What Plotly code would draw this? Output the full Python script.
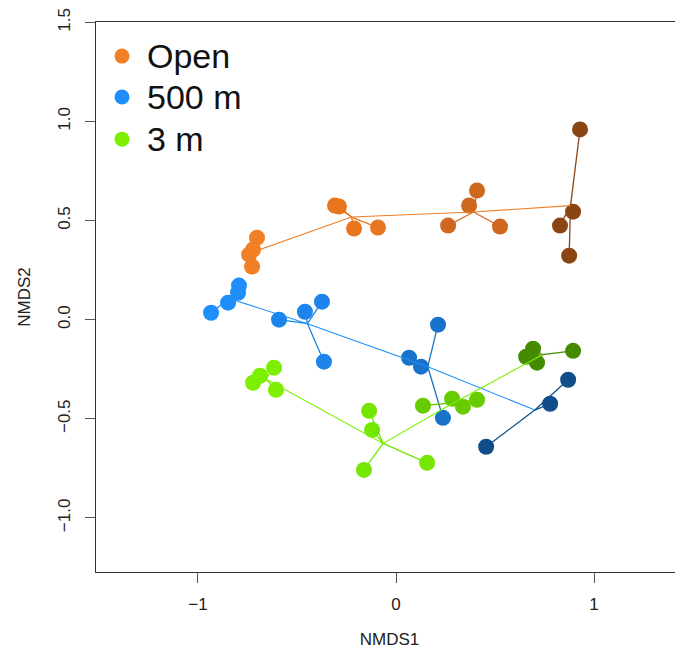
import plotly.graph_objects as go

# ---- data (NMDS scores) ----
treatments = ["Open", "500 m", "3 m"]

open_x = [[-0.702, -0.722, -0.742, -0.727],
          [-0.308, -0.288, -0.212, -0.091],
          [0.409, 0.369, 0.263, 0.525],
          [0.929, 0.894, 0.828, 0.874]]
open_y = [[0.414, 0.354, 0.328, 0.268],
          [0.576, 0.571, 0.460, 0.465],
          [0.652, 0.576, 0.475, 0.470],
          [0.960, 0.545, 0.475, 0.323]]

m500_x = [[-0.793, -0.798, -0.848, -0.934],
          [-0.591, -0.460, -0.374, -0.364],
          [0.212, 0.066, 0.126, 0.237],
          [0.869, 0.778, 0.455]]
m500_y = [[0.172, 0.136, 0.086, 0.035],
          [0.000, 0.040, 0.091, -0.212],
          [-0.025, -0.192, -0.237, -0.495],
          [-0.303, -0.424, -0.641]]

m3_x = [[-0.616, -0.687, -0.722, -0.606],
        [-0.136, -0.121, -0.162, 0.157],
        [0.136, 0.283, 0.338, 0.409],
        [0.692, 0.657, 0.712, 0.894]]
m3_y = [[-0.242, -0.283, -0.318, -0.354],
        [-0.460, -0.556, -0.758, -0.722],
        [-0.434, -0.399, -0.439, -0.404],
        [-0.146, -0.187, -0.217, -0.157]]

open_cols = ["#F07F26", "#E8761F", "#CF671E", "#8B4513"]
m500_cols = ["#1E8FFA", "#1C84EA", "#1872CA", "#104E8B"]
m3_cols = ["#7CF000", "#74E600", "#66CC00", "#458B00"]

x_ticks = [-1, 0, 1]
x_tick_text = ["\u22121", "0", "1"]
y_ticks = [-1.0, -0.5, 0.0, 0.5, 1.0, 1.5]
y_tick_text = ["\u22121.0", "\u22120.5", "0.0", "0.5", "1.0", "1.5"]

groups = [(open_x, open_y, open_cols), (m500_x, m500_y, m500_cols), (m3_x, m3_y, m3_cols)]

fig = go.Figure()


def mean(v):
    return sum(v) / len(v)


# points
for gx, gy, cols in groups:
    for xs, ys, c in zip(gx, gy, cols):
        fig.add_trace(go.Scatter(x=xs, y=ys, mode="markers",
                                 marker=dict(size=16, color=c, line=dict(width=0)),
                                 showlegend=False, hoverinfo="skip"))

# spiders (centroid -> points) and trajectories (centroid -> centroid)
for gx, gy, cols in groups:
    cx_list, cy_list = [], []
    for xs, ys, c in zip(gx, gy, cols):
        cx, cy = mean(xs), mean(ys)
        cx_list.append(cx)
        cy_list.append(cy)
        lx, ly = [], []
        for x, y in zip(xs, ys):
            lx += [cx, x, None]
            ly += [cy, y, None]
        fig.add_trace(go.Scatter(x=lx, y=ly, mode="lines",
                                 line=dict(color=c, width=1.3),
                                 showlegend=False, hoverinfo="skip"))
    fig.add_trace(go.Scatter(x=cx_list, y=cy_list, mode="lines",
                             line=dict(color=cols[0], width=1.1),
                             showlegend=False, hoverinfo="skip"))

# legend (drawn in paper coordinates, top-left inside the plot box)
legend_font = dict(family="Liberation Sans, Arial, sans-serif", size=34, color="#111")
leg_y = [0.938, 0.8636, 0.787]
for name, cols, ly in zip(treatments, [open_cols, m500_cols, m3_cols], leg_y):
    fig.add_shape(type="circle", xref="paper", yref="paper",
                  xsizemode="pixel", ysizemode="pixel",
                  xanchor=0.0443, yanchor=ly, x0=-7.5, x1=7.5, y0=-7.5, y1=7.5,
                  fillcolor=cols[0], line=dict(width=0))
    fig.add_annotation(text=name, xref="paper", yref="paper", x=0.0835, y=ly,
                       xanchor="left", yanchor="middle", showarrow=False,
                       font=legend_font)

axis_font = dict(family="Liberation Sans, Arial, sans-serif", size=17, color="#222")

# page has an 8px body margin, so the figure is sized to fit the 683x655 window
fig.update_layout(
    width=675, height=647,
    margin=dict(l=88, r=0, t=14, b=83),
    plot_bgcolor="white", paper_bgcolor="white",
    font=axis_font,
    showlegend=False,
    xaxis=dict(range=[-1.515, 1.449], showgrid=False, zeroline=False, automargin=False,
               showline=True, linecolor="#333", linewidth=1.2, mirror=True,
               ticks="outside", ticklen=10, tickcolor="#555", tickwidth=1,
               tickvals=x_ticks, ticktext=x_tick_text, ticklabelstandoff=6,
               tickfont=axis_font,
               title=dict(text="NMDS1", standoff=20, font=axis_font)),
    yaxis=dict(range=[-1.273, 1.502], showgrid=False, zeroline=False, automargin=False,
               showline=True, linecolor="#333", linewidth=1.2,
               ticks="outside", ticklen=10, tickcolor="#555", tickwidth=1,
               tickvals=y_ticks, ticktext=y_tick_text, tickangle=-90,
               ticklabelstandoff=8, tickfont=axis_font,
               title=dict(text="NMDS2", standoff=20, font=axis_font)),
)

fig.write_html("out.html")
